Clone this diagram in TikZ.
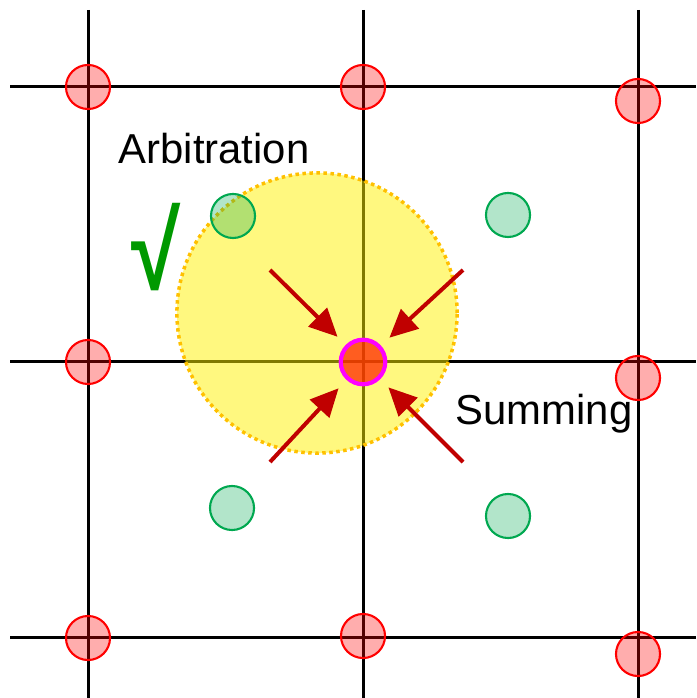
\documentclass[tikz,border=0pt]{standalone}
\usepackage{fontspec}
\setmainfont{Liberation Sans}
\usetikzlibrary{arrows.meta}
\definecolor{cellgreen}{HTML}{00A850}
\definecolor{zoneedge}{HTML}{FFC000}
\definecolor{hubfill}{HTML}{FF2A00}
\definecolor{hubedge}{HTML}{FF00FF}
\definecolor{arrowred}{HTML}{C00000}
\definecolor{tickgreen}{HTML}{009900}

\begin{document}
\begin{tikzpicture}[
  x=0.01cm,y=-0.01cm,
  gridline/.style={line width=0.03cm,black},
  site/.style={circle,draw=red,line width=0.6pt,fill=red,fill opacity=0.32,minimum size=0.44cm,inner sep=0pt},
  cell/.style={circle,draw=cellgreen,line width=0.6pt,fill=cellgreen,fill opacity=0.3,minimum size=0.44cm,inner sep=0pt},
  zone/.style={circle,draw=zoneedge,line width=0.035cm,dash pattern=on 0.035cm off 0.035cm,fill=yellow,fill opacity=0.5,minimum size=2.8cm,inner sep=0pt},
  hub/.style={circle,draw=hubedge,line width=0.042cm,fill=hubfill,fill opacity=0.75,minimum size=0.445cm,inner sep=0pt},
  arr/.style={-{Triangle[length=0.28cm,width=0.26cm]},line width=0.04cm,arrowred,shorten >=0.115cm},
  lbl/.style={font=\fontsize{11.9}{14}\selectfont,anchor=base west,inner sep=0pt}]
  \useasboundingbox (0,0) rectangle (696,698);
  % grid
  \foreach \g in {88,363,638} \draw[gridline] (\g,10) -- (\g,698);
  \foreach \g in {87,362,637} \draw[gridline] (10,\g) -- (696,\g);
  % grid points
  \node[site] (s11) at (88,87) {};
  \node[site] (s12) at (363,87) {};
  \node[site] (s13) at (638,101) {};
  \node[site] (s21) at (88,362) {};
  \node[site] (s23) at (638,378) {};
  \node[site] (s31) at (88,638) {};
  \node[site] (s32) at (363,636) {};
  \node[site] (s33) at (638,654) {};
  % search area
  \node[zone] (zone) at (317,313) {};
  % samples
  \node[cell] (c1) at (233,216) {};
  \node[cell] (c2) at (508,215) {};
  \node[cell] (c3) at (232,508) {};
  \node[cell] (c4) at (508,516) {};
  % target point
  \node[hub] (hub) at (363,362) {};
  \coordinate (t1) at (270,270);
  \coordinate (t2) at (463,270);
  \coordinate (t3) at (270,462);
  \coordinate (t4) at (463,462);
  \foreach \t in {t1,t2,t3,t4} \draw[arr] (\t) -- (hub);
  % labels
  \node[lbl] (arb) at (118,164) {Arbitration};
  \node[lbl] (sum) at (455,425) {Summing};
  \node[font=\fontsize{31}{32}\selectfont\bfseries,text=tickgreen,anchor=south west,inner sep=0pt] (tick) at (131,292) {\scalebox{0.82}[1]{√}};
\end{tikzpicture}
\end{document}
